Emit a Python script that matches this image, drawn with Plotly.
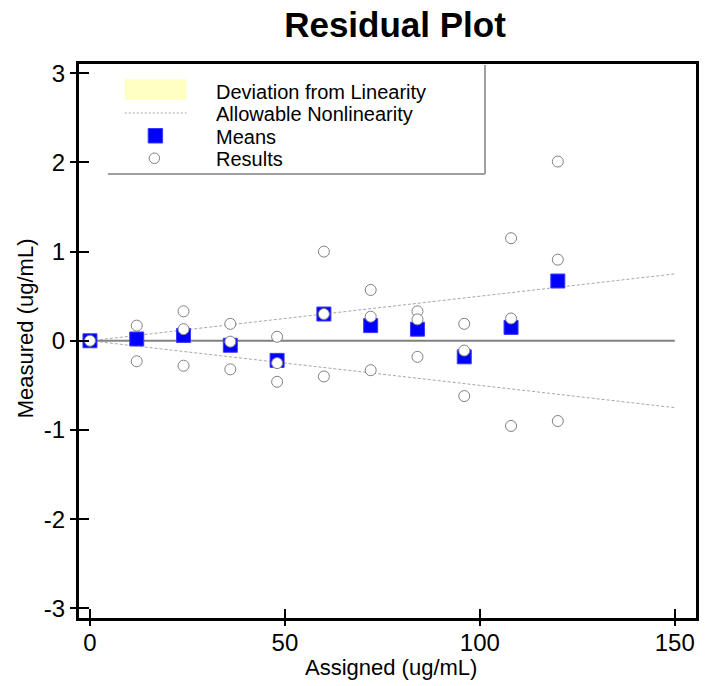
import plotly.graph_objects as go

# ---------------- data ----------------
assigned = [0, 12, 24, 36, 48, 60, 72, 84, 96, 108, 120]
means = [0.0, 0.02, 0.06, -0.05, -0.22, 0.30, 0.17, 0.13, -0.18, 0.15, 0.67]

results_x = [0,
             12, 12,
             24, 24, 24,
             36, 36, 36,
             48, 48, 48,
             60, 60, 60,
             72, 72, 72,
             84, 84, 84,
             96, 96, 96,
             108, 108, 108,
             120, 120, 120]
results_y = [0.0,
             0.17, -0.23,
             0.33, 0.13, -0.28,
             0.19, -0.01, -0.32,
             0.045, -0.25, -0.46,
             1.0, 0.30, -0.40,
             0.57, 0.27, -0.33,
             0.33, 0.24, -0.18,
             0.19, -0.11, -0.62,
             1.15, 0.25, -0.955,
             2.01, 0.91, -0.90]

limit_x = [0, 150]
allow_upper = [0, 0.75]
allow_lower = [0, -0.75]
zero_y = [0, 0]

x_ticks = [0, 50, 100, 150]
x_ticktext = ["0", "50", "100", "150"]
y_ticks = [3, 2, 1, 0, -1, -2, -3]
y_ticktext = ["3", "2", "1", "0", "-1", "-2", "-3"]

legend_labels = ["Deviation from Linearity", "Allowable Nonlinearity", "Means", "Results"]

# ---------------- layout geometry ----------------
W, H = 708, 686
ML, MR, MT, MB = 79, 9, 64, 68
PW, PH = W - ML - MR, H - MT - MB
FONT = "Liberation Sans, Arial, sans-serif"


def px(xp):
    return (xp - ML) / PW


def py(yp):
    return (H - MB - yp) / PH


fig = go.Figure()

fig.add_trace(go.Scatter(x=limit_x, y=zero_y, mode="lines",
                         line=dict(color="#808080", width=2),
                         hoverinfo="skip", showlegend=False))
fig.add_trace(go.Scatter(x=limit_x, y=allow_upper, mode="lines",
                         line=dict(color="#a8a8a8", width=1, dash="3px,2px"),
                         name=legend_labels[1], showlegend=False))
fig.add_trace(go.Scatter(x=limit_x, y=allow_lower, mode="lines",
                         line=dict(color="#a8a8a8", width=1, dash="3px,2px"),
                         showlegend=False))
fig.add_trace(go.Scatter(x=assigned, y=means, mode="markers",
                         marker=dict(symbol="square", size=14, color="#0000ff",
                                     line=dict(color="#3a3aff", width=1)),
                         name=legend_labels[2], showlegend=False))
fig.add_trace(go.Scatter(x=results_x, y=results_y, mode="markers",
                         marker=dict(symbol="circle", size=11, color="white",
                                     line=dict(color="#808080", width=1)),
                         name=legend_labels[3], showlegend=False))
# empty trace to create overlay axes used for inner tick halves
fig.add_trace(go.Scatter(x=[], y=[], xaxis="x2", yaxis="y2", showlegend=False))

xr = [-2.81, 155.44]
yr = [-3.109, 3.104]

fig.update_layout(
    width=W, height=H,
    margin=dict(l=ML, r=MR, t=MT, b=MB),
    paper_bgcolor="white", plot_bgcolor="white",
    font=dict(family=FONT, color="black"),
    showlegend=False,
    title=dict(text="<b>Residual Plot</b>", font=dict(size=35, family=FONT, color="black"),
               x=395 / W, xref="container", xanchor="center",
               y=1 - 25 / H, yref="container", yanchor="middle"),
    xaxis=dict(range=xr, showgrid=False, zeroline=False,
               showline=True, linecolor="black", linewidth=3, mirror=True,
               ticks="outside", ticklen=5, tickwidth=2, tickcolor="black",
               tickvals=x_ticks, ticktext=x_ticktext, ticklabelstandoff=-4,
               tickfont=dict(size=24, family=FONT, color="black")),
    yaxis=dict(range=yr, showgrid=False, zeroline=False,
               showline=True, linecolor="black", linewidth=3, mirror=True,
               ticks="outside", ticklen=6, tickwidth=2, tickcolor="black",
               tickvals=y_ticks, ticktext=y_ticktext,
               tickfont=dict(size=24, family=FONT, color="black")),
    xaxis2=dict(range=xr, overlaying="x", anchor="y2", side="bottom",
                showgrid=False, zeroline=False, showline=False,
                ticks="inside", ticklen=9, tickwidth=2, tickcolor="black",
                tickvals=x_ticks, showticklabels=False),
    yaxis2=dict(range=yr, overlaying="y", anchor="x2", side="left",
                showgrid=False, zeroline=False, showline=False,
                ticks="inside", ticklen=10, tickwidth=2, tickcolor="black",
                tickvals=y_ticks, showticklabels=False),
)

# axis titles
fig.add_annotation(text="Assigned (ug/mL)", xref="paper", yref="paper",
                   x=px(393), y=py(667), xanchor="center", yanchor="middle",
                   showarrow=False, font=dict(size=22, family=FONT, color="black"))
fig.add_annotation(text="Measured (ug/mL)", xref="paper", yref="paper",
                   x=px(25), y=py(328), xanchor="center", yanchor="middle",
                   textangle=-90, showarrow=False,
                   font=dict(size=22, family=FONT, color="black"))

# ---------------- manual legend ----------------
shapes = []
shapes.append(dict(type="line", xref="paper", yref="paper",
                   x0=px(108), x1=px(487), y0=py(174), y1=py(174),
                   line=dict(color="#a0a0a0", width=2)))
shapes.append(dict(type="line", xref="paper", yref="paper",
                   x0=px(487), x1=px(487), y0=py(174), y1=py(65),
                   line=dict(color="#a0a0a0", width=2)))
shapes.append(dict(type="rect", xref="paper", yref="paper",
                   x0=px(125), x1=px(187), y0=py(100), y1=py(79),
                   fillcolor="#ffffc4", line=dict(width=0)))
shapes.append(dict(type="line", xref="paper", yref="paper",
                   x0=px(125), x1=px(187), y0=py(113), y1=py(113),
                   line=dict(color="#a8a8a8", width=1, dash="2px,2px")))
shapes.append(dict(type="rect", xref="paper", yref="paper",
                   x0=px(148.5), x1=px(163), y0=py(143), y1=py(128.5),
                   fillcolor="#0000ff", line=dict(color="#3a3aff", width=1)))
shapes.append(dict(type="circle", xref="paper", yref="paper",
                   x0=px(149.5), x1=px(160), y0=py(163.5), y1=py(153),
                   fillcolor="white", line=dict(color="#808080", width=1)))
fig.update_layout(shapes=shapes)

row_y = [91, 113, 136, 158]
for lab, yy in zip(legend_labels, row_y):
    fig.add_annotation(text=lab, xref="paper", yref="paper",
                       x=px(215), y=py(yy + 1), xanchor="left", yanchor="middle",
                       showarrow=False, font=dict(size=20, family=FONT, color="black"))

fig.write_html("out.html",
               config={"displayModeBar": False},
               post_script="document.body.style.margin='0';"
                           "document.body.style.overflow='hidden';")
